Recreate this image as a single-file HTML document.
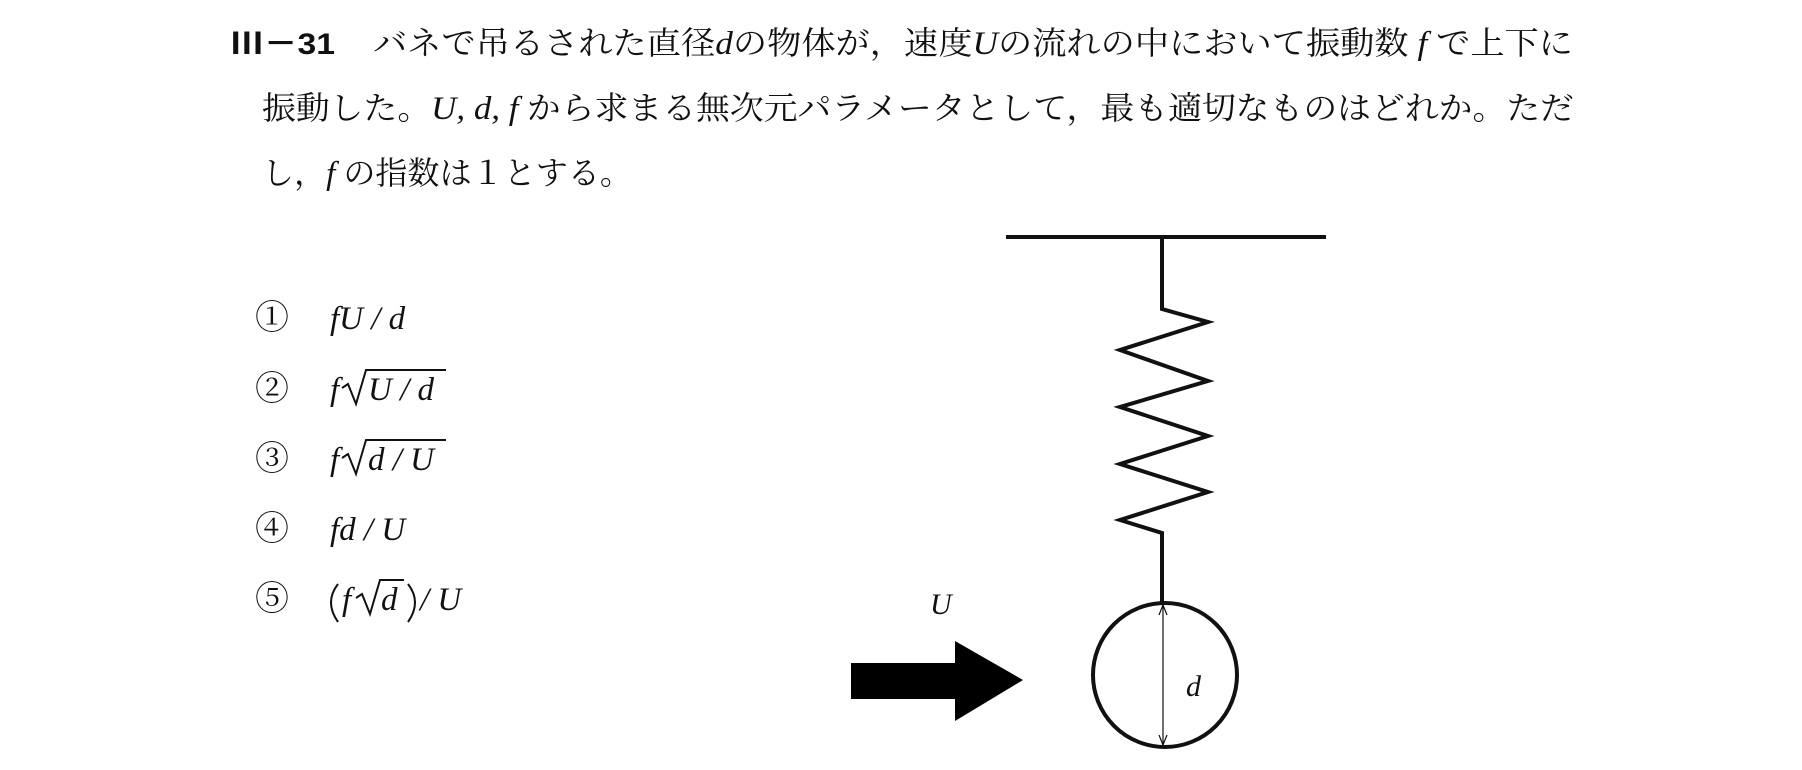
<!DOCTYPE html>
<html><head><meta charset="utf-8"><style>
html,body{margin:0;padding:0;background:#fff;}
svg{display:block;}
.jp{font-family:"Liberation Serif","Noto Serif CJK JP","Noto Serif CJK SC",serif;font-size:32px;fill:#111;}
.it{font-family:"Liberation Serif",serif;font-style:italic;font-size:33px;fill:#111;}
.sans{font-family:"Liberation Sans","Noto Sans CJK JP",sans-serif;font-size:30px;fill:#111;font-weight:bold;}
</style></head><body>
<svg width="1802" height="770" viewBox="0 0 1802 770" xmlns="http://www.w3.org/2000/svg">
<rect width="1802" height="770" fill="#fff"/>
<text x="230" y="54" class="sans" textLength="105" lengthAdjust="spacingAndGlyphs">Ⅲ－31</text>
<text x="373" y="54" class="jp" textLength="1200" lengthAdjust="spacingAndGlyphs">バネで吊るされた直径<tspan class="it">d</tspan>の物体が，速度<tspan class="it">U</tspan>の流れの中において振動数<tspan class="it"> f </tspan>で上下に</text>
<text x="262" y="119" class="jp" textLength="1312" lengthAdjust="spacingAndGlyphs">振動した。<tspan class="it">U, d, f</tspan> から求まる無次元パラメータとして，最も適切なものはどれか。ただ</text>
<text x="262" y="184" class="jp" textLength="370" lengthAdjust="spacingAndGlyphs">し，<tspan class="it">f</tspan> の指数は１とする。</text>

<g class="jp" style="font-size:34px">
<text x="255" y="329">①</text>
<text x="255" y="400">②</text>
<text x="255" y="470">③</text>
<text x="255" y="540">④</text>
<text x="255" y="610">⑤</text>
</g>
<text x="330" y="329" class="it">fU / d</text>
<text x="330" y="400" class="it">f</text>
<path d="M342 388 L348 384 L356 404 L366 370 L446 370" fill="none" stroke="#111" stroke-width="2"/>
<text x="368" y="400" class="it">U / d</text>
<text x="330" y="470" class="it">f</text>
<path d="M342 458 L348 454 L356 474 L366 440 L446 440" fill="none" stroke="#111" stroke-width="2"/>
<text x="368" y="470" class="it">d / U</text>
<text x="330" y="540" class="it">fd / U</text>
<path d="M338 584 Q324 602 338 622" fill="none" stroke="#111" stroke-width="2"/>
<text x="342" y="610" class="it">f</text>
<path d="M356 598 L362 594 L370 614 L380 580 L404 580" fill="none" stroke="#111" stroke-width="2"/>
<text x="381" y="610" class="it">d</text>
<path d="M408 584 Q422 602 408 622" fill="none" stroke="#111" stroke-width="2"/>
<text x="420" y="610" class="it">/ U</text>

<line x1="1006" y1="237" x2="1326" y2="237" stroke="#111" stroke-width="4"/>
<polyline points="1162,237 1162,309 1208,322 1120,350 1208,381 1120,407 1208,436 1120,464 1208,492 1120,520 1162,533 1162,603" fill="none" stroke="#111" stroke-width="4" stroke-linejoin="miter"/>
<circle cx="1165" cy="675" r="72" fill="none" stroke="#111" stroke-width="4"/>
<line x1="1163" y1="605" x2="1163" y2="745" stroke="#111" stroke-width="1.2"/>
<path d="M1159 615 L1163 605 L1167 615 M1159 735 L1163 745 L1167 735" fill="none" stroke="#111" stroke-width="1.2"/>
<text x="1186" y="696" class="it" style="font-size:30px">d</text>
<text x="930" y="614" class="it" style="font-size:30px">U</text>
<polygon points="851,663 955,663 955,641 1023,680 955,721 955,699 851,699" fill="#000"/>
</svg>
</body></html>
